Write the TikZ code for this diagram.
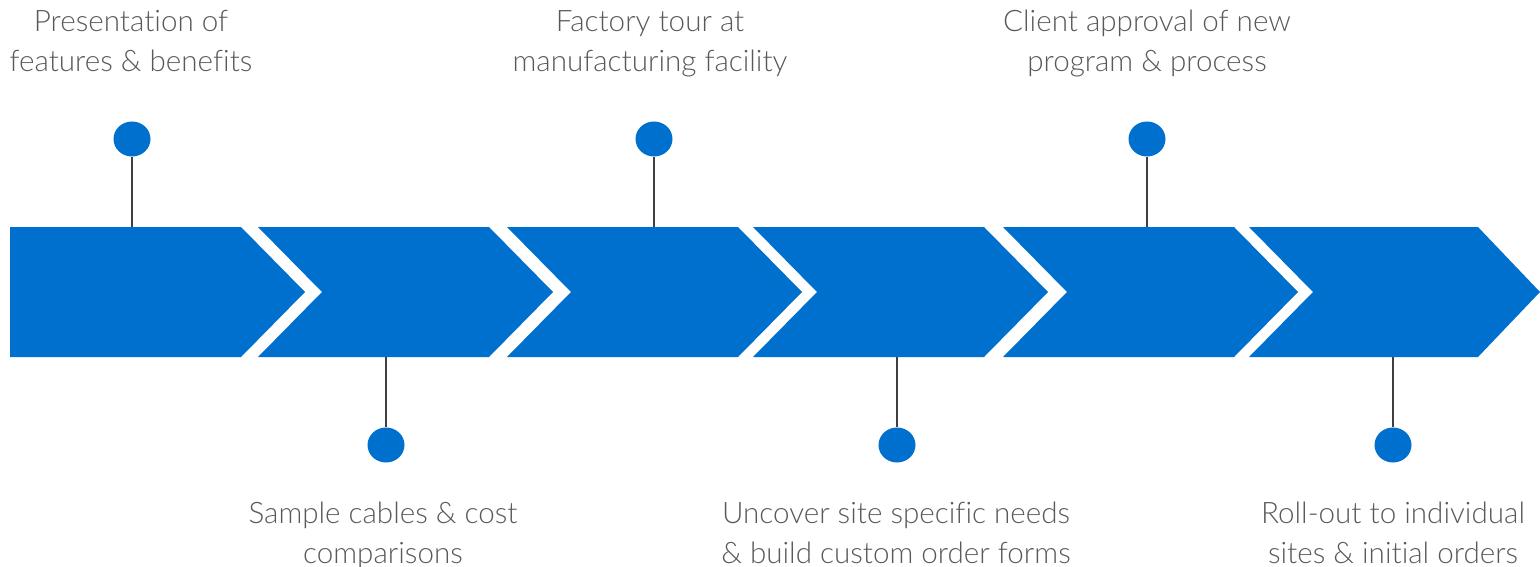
\documentclass[tikz,border=0pt]{standalone}
\usepackage{fontspec}
\usetikzlibrary{shapes.geometric}
\setmainfont{Lato}[UprightFont={* Light},Ligatures=NoCommon]
\definecolor{chevblue}{HTML}{0070CE}
\definecolor{labelgray}{HTML}{595959}
\definecolor{pingray}{HTML}{404040}
\begin{document}
\begin{tikzpicture}[x=1pt,y=-1pt,
  chev/.style={fill=chevblue,draw=none},
  pin/.style={ellipse,fill=chevblue,minimum width=37pt,minimum height=35pt,inner sep=0pt},
  stem/.style={draw=pingray,line width=2pt},
  lbl/.style={align=center,text=labelgray,font=\fontsize{29.6}{40}\selectfont,inner sep=0pt,anchor=base}]
\useasboundingbox (0,0) rectangle (1540,567);
% chevrons
\fill[chev] (10,227) -- (241,227) -- (305,292) -- (241,357) -- (10,357) -- cycle;
\foreach \L in {258,507,753,1003}{
  \fill[chev] (\L,227) -- ({\L+231},227) -- ({\L+295},292) -- ({\L+231},357) -- (\L,357) -- ({\L+64},292) -- cycle;
}
\fill[chev] (1249,227) -- (1478,227) -- (1540,292) -- (1478,357) -- (1249,357) -- (1313,292) -- cycle;
% anchor coordinates on chevron edges
\coordinate (e1) at (132,227);
\coordinate (e2) at (386,357);
\coordinate (e3) at (654,227);
\coordinate (e4) at (897,357);
\coordinate (e5) at (1147,227);
\coordinate (e6) at (1393,357);
% pins
\node[pin] (p1) at (132,139) {};
\node[pin] (p2) at (386,445) {};
\node[pin] (p3) at (654,139) {};
\node[pin] (p4) at (897,445) {};
\node[pin] (p5) at (1147,139) {};
\node[pin] (p6) at (1393,445) {};
\foreach \i in {1,...,6}{ \draw[stem] (p\i) -- (e\i); }
% labels (base anchor = baseline of last line)
\node[lbl] (t1) at (131,72) {Presentation of\\features \& benefits};
\node[lbl] (t3) at (650,72) {Factory tour at\\manufacturing facility};
\node[lbl] (t5) at (1147,72) {Client approval of new\\program \& process};
\node[lbl] (t2) at (383,563) {Sample cables \& cost\\comparisons};
\node[lbl] (t4) at (896,563) {Uncover site specific needs\\\& build custom order forms};
\node[lbl] (t6) at (1393,563) {Roll-out to individual\\sites \& initial orders};
\end{tikzpicture}
\end{document}
